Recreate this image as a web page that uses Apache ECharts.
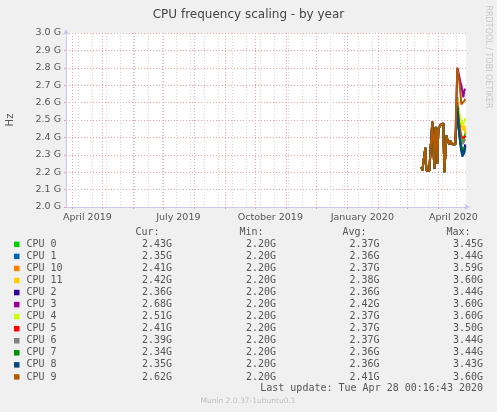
<!DOCTYPE html>
<html><head><meta charset="utf-8">
<script src="https://cdn.jsdelivr.net/npm/echarts@6/dist/echarts.min.js"></script>
<style>html,body{margin:0;padding:0;background:#f0f0f0;}#c{width:497px;height:412px;}</style>
</head><body><div id="c"></div>
<script>
const DAY = 86400000;
const titleText = 'CPU frequency scaling - by year';
const axisStartTime = '2019-03-25T16:00:00Z';
const axisSpanDays = 400;
const dataFirstDay = '2020-03-15';

const monthStarts = ['2019-04-01','2019-05-01','2019-06-01','2019-07-01','2019-08-01','2019-09-01','2019-10-01','2019-11-01','2019-12-01','2020-01-01','2020-02-01','2020-03-01','2020-04-01'];
const labelDates = ['2019-04-16','2019-07-16','2019-10-16','2020-01-16','2020-04-16'];
const labelTexts = ['April 2019','July 2019','October 2019','January 2020','April 2020'];
const minorGridFirst = '2019-04-07';
const minorGridStepDays = 14;

const cpuNames = ['CPU 0','CPU 1','CPU 10','CPU 11','CPU 2','CPU 3','CPU 4','CPU 5','CPU 6','CPU 7','CPU 8','CPU 9'];
const cpuColors = ['#00CC00','#0066B3','#FF8000','#FFCC00','#330099','#990099','#CCFF00','#FF0000','#808080','#008F00','#00487D','#B35A00'];
const curVals = ['2.43G','2.35G','2.41G','2.42G','2.36G','2.68G','2.51G','2.41G','2.39G','2.34G','2.35G','2.62G'];
const minVals = ['2.20G','2.20G','2.20G','2.20G','2.20G','2.20G','2.20G','2.20G','2.20G','2.20G','2.20G','2.20G'];
const avgVals = ['2.37G','2.36G','2.37G','2.38G','2.36G','2.42G','2.37G','2.37G','2.37G','2.36G','2.36G','2.41G'];
const maxVals = ['3.45G','3.44G','3.59G','3.60G','3.44G','3.60G','3.60G','3.50G','3.44G','3.44G','3.43G','3.60G'];

// daily values (GHz) shared by all CPUs from 2020-03-15 to 2020-04-18 (lines overlap there)
const sharedDaily = [2.23,2.21,2.21,2.22,2.34,2.21,2.22,2.21,2.21,2.22,2.40,2.49,2.48,2.22,2.46,2.44,2.25,2.45,2.45,2.47,2.47,2.48,2.48,2.20,2.30,2.41,2.39,2.38,2.36,2.38,2.37,2.36,2.37,2.35,2.36];
// last ten days per CPU (2020-04-19 .. 2020-04-28)
const cpu0Tail  = [2.50,2.63,2.56,2.49,2.44,2.41,2.39,2.37,2.40,2.43];
const cpu1Tail  = [2.47,2.58,2.50,2.42,2.37,2.33,2.30,2.30,2.32,2.35];
const cpu10Tail = [2.49,2.61,2.54,2.47,2.43,2.41,2.39,2.38,2.40,2.41];
const cpu11Tail = [2.50,2.62,2.57,2.53,2.50,2.48,2.46,2.44,2.47,2.42];
const cpu2Tail  = [2.47,2.58,2.50,2.43,2.38,2.34,2.32,2.31,2.34,2.36];
const cpu3Tail  = [2.60,2.80,2.79,2.75,2.72,2.70,2.69,2.63,2.67,2.68];
const cpu4Tail  = [2.49,2.60,2.56,2.53,2.51,2.50,2.47,2.46,2.49,2.51];
const cpu5Tail  = [2.48,2.60,2.53,2.47,2.43,2.40,2.39,2.39,2.40,2.41];
const cpu6Tail  = [2.48,2.59,2.52,2.45,2.41,2.38,2.36,2.35,2.37,2.39];
const cpu7Tail  = [2.47,2.58,2.50,2.43,2.38,2.35,2.33,2.32,2.33,2.34];
const cpu8Tail  = [2.46,2.57,2.49,2.41,2.36,2.32,2.29,2.29,2.31,2.35];
const cpu9Tail  = [2.60,2.80,2.79,2.72,2.66,2.59,2.59,2.60,2.61,2.62];
const cpuTails = [cpu0Tail,cpu1Tail,cpu10Tail,cpu11Tail,cpu2Tail,cpu3Tail,cpu4Tail,cpu5Tail,cpu6Tail,cpu7Tail,cpu8Tail,cpu9Tail];

const yTickMin = 2.0, yTickMax = 3.0, yTickStep = 0.1;
const lastUpdate = 'Last update: Tue Apr 28 00:16:43 2020';
const muninVersion = 'Munin 2.0.37-1ubuntu0.1';
const vendorText = 'RRDTOOL / TOBI OETIKER';

function ts(s){ const p = s.split('-').map(Number); return Date.UTC(p[0], p[1]-1, p[2]); }
const axisMin = Date.parse(axisStartTime);
const axisMax = axisMin + axisSpanDays*DAY;
const monthTs = monthStarts.map(ts);
const labelTs = labelDates.map(ts);
const minorTs = [];
for (let t = ts(minorGridFirst); t < axisMax; t += minorGridStepDays*DAY) minorTs.push(t);
const firstTs = ts(dataFirstDay);

const series = cpuNames.map((name, k) => {
  const vals = sharedDaily.concat(cpuTails[k]);
  return {
    type: 'line', name: name, xAxisIndex: 1, yAxisIndex: 0,
    data: vals.map((v, i) => [firstTs + i*DAY, v]),
    showSymbol: false, symbol: 'none',
    lineStyle: { width: 2, color: cpuColors[k] },
    itemStyle: { color: cpuColors[k] },
    emphasis: { disabled: true },
    animation: false
  };
});

const mono = '10px "DejaVu Sans Mono"';
const txtColor = '#555555';
function txt(x, y, text, align, font, color, rotation){
  return { type: 'text', x: x, y: y, rotation: rotation || 0, silent: true,
    style: { text: text, font: font || mono, fill: color || txtColor,
      textAlign: align, align: align, textVerticalAlign: 'middle', verticalAlign: 'middle' } };
}
const graphics = [];
const rowY0 = 244.4, rowStep = 12.05;
graphics.push(txt(159.5, 232.8, 'Cur:', 'right'));
graphics.push(txt(263.5, 232.8, 'Min:', 'right'));
graphics.push(txt(366.5, 232.8, 'Avg:', 'right'));
graphics.push(txt(470.5, 232.8, 'Max:', 'right'));
cpuNames.forEach((name, i) => {
  const y = rowY0 + i*rowStep;
  graphics.push({ type: 'rect', silent: true, shape: { x: 14, y: y - 2.8, width: 5.5, height: 5.5 }, style: { fill: cpuColors[i] } });
  graphics.push(txt(26.5, y, name, 'left'));
  graphics.push(txt(172, y, curVals[i], 'right'));
  graphics.push(txt(276, y, minVals[i], 'right'));
  graphics.push(txt(379.5, y, avgVals[i], 'right'));
  graphics.push(txt(483, y, maxVals[i], 'right'));
});
graphics.push(txt(483, 388.7, lastUpdate, 'right'));
graphics.push(txt(248, 400.7, muninVersion, 'center', '7.5px "DejaVu Sans"', '#c0c0c0'));
graphics.push(txt(10, 120, 'Hz', 'center', '10px "DejaVu Sans"', txtColor, Math.PI/2));
graphics.push(txt(488, 57, vendorText, 'center', '8px "DejaVu Sans"', '#c8c8c8', -Math.PI/2));

const axisLineColor = '#c8c8f0';
const majorGrid = { color: '#f0a0a0', width: 1, type: [1, 2] };
const minorGrid = { color: '#d4d4d4', width: 1, type: [1, 2] };

const option = {
  backgroundColor: '#f0f0f0',
  animation: false,
  title: { text: titleText, left: 'center', top: 4,
    textStyle: { fontSize: 12, fontWeight: 'normal', color: '#444', fontFamily: 'DejaVu Sans' } },
  grid: { left: 66, right: 31, top: 33, bottom: 205, show: true, backgroundColor: '#ffffff', borderWidth: 0 },
  xAxis: [
    { type: 'value', min: axisMin, max: axisMax, position: 'top',
      axisLine: { show: false }, axisLabel: { show: false },
      axisTick: { show: false, customValues: minorTs },
      splitLine: { show: true, lineStyle: minorGrid } },
    { type: 'value', min: axisMin, max: axisMax, position: 'bottom',
      axisLine: { show: true, onZero: false, lineStyle: { color: axisLineColor, width: 1 },
        symbol: ['none', 'arrow'], symbolSize: [5, 6], symbolOffset: [0, 4] },
      axisTick: { show: true, length: 2, customValues: monthTs, lineStyle: { color: '#f0a0a0' } },
      axisLabel: { show: true, customValues: labelTs, color: txtColor, fontSize: 9.5, fontFamily: 'DejaVu Sans', margin: 6,
        hideOverlap: false,
        formatter: function(v){ const i = labelTs.indexOf(v); return i >= 0 ? labelTexts[i] : ''; } },
      splitLine: { show: true, lineStyle: majorGrid } }
  ],
  yAxis: { type: 'value', min: yTickMin, max: yTickMax, interval: yTickStep,
    axisLine: { show: true, lineStyle: { color: axisLineColor, width: 1 },
      symbol: ['none', 'arrow'], symbolSize: [5, 6], symbolOffset: [0, 4] },
    axisTick: { show: true, length: 2, lineStyle: { color: '#f0a0a0' } },
    axisLabel: { color: txtColor, fontSize: 9.5, fontFamily: 'DejaVu Sans', margin: 5,
      formatter: function(v){ return v.toFixed(1) + ' G'; } },
    splitLine: { show: true, lineStyle: majorGrid } },
  graphic: graphics,
  series: series
};
const chart = echarts.init(document.getElementById('c'), null, { renderer: 'canvas' });
chart.setOption(option);
</script></body></html>
